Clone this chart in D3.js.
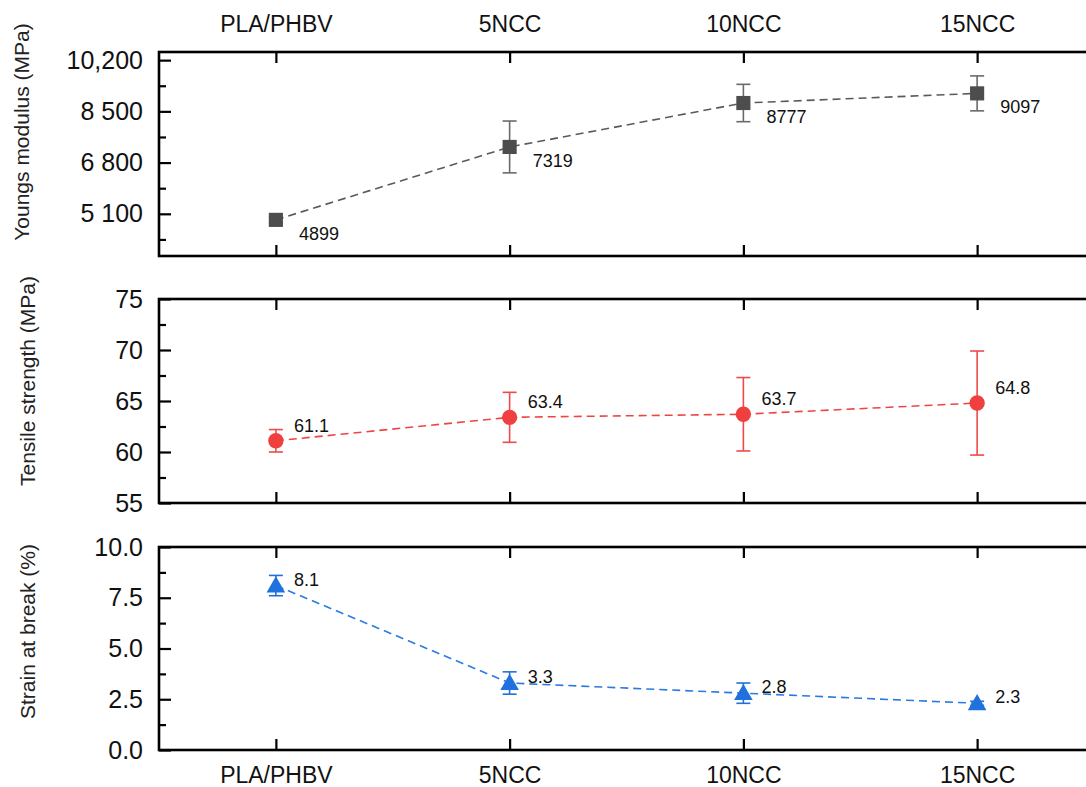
<!DOCTYPE html>
<html>
<head>
<meta charset="utf-8">
<script src="https://cdn.jsdelivr.net/npm/d3@7/dist/d3.min.js"></script>
<style>
  html, body { margin: 0; padding: 0; background: #fff; }
  svg { display: block; font-family: "Liberation Sans", Arial, sans-serif; }
</style>
</head>
<body>
<svg id="chart" width="1086" height="787"></svg>
<script>
// Sample groups
const categories = ["PLA/PHBV", "5NCC", "10NCC", "15NCC"];

// Young's modulus (MPa)
const modulus = [4899, 7319, 8777, 9097];
const modulusErr = [100, 860, 620, 580];
const modulusTicks = [5100, 6800, 8500, 10200];
const modulusTickLabels = ["5 100", "6 800", "8 500", "10,200"];
const modulusMinor = [4250, 5950, 7650, 9350];

// Tensile strength (MPa)
const strength = [61.1, 63.4, 63.7, 64.8];
const strengthErr = [1.1, 2.45, 3.6, 5.1];
const strengthTicks = [55, 60, 65, 70, 75];
const strengthTickLabels = ["55", "60", "65", "70", "75"];
const strengthMinor = [57.5, 62.5, 67.5, 72.5];

// Strain at break (%)
const strain = [8.1, 3.3, 2.8, 2.3];
const strainErr = [0.5, 0.55, 0.5, 0.1];
const strainTicks = [0, 2.5, 5, 7.5, 10];
const strainTickLabels = ["0.0", "2.5", "5.0", "7.5", "10.0"];
const strainMinor = [1.25, 3.75, 6.25, 8.75];

const svg = d3.select("#chart");
const left = 159, right = 1094;

const x = d3.scalePoint().domain(categories).range([left, right]).padding(0.5);

const panels = [
  {
    values: modulus, errs: modulusErr, ticks: modulusTicks, tickLabels: modulusTickLabels,
    minor: modulusMinor, domain: [3700, 10470], top: 52, bottom: 256,
    title: "Youngs modulus (MPa)", titleX: 29, titleShift: -22, color: "#4d4d4d", lineColor: "#5a5a5a",
    errColor: "#6a6a6a", marker: "square", labelDx: 23, labelDy: 20,
    catTop: true, catBottom: false
  },
  {
    values: strength, errs: strengthErr, ticks: strengthTicks, tickLabels: strengthTickLabels,
    minor: strengthMinor, domain: [55, 75], top: 299, bottom: 503,
    title: "Tensile strength (MPa)", titleX: 35, titleShift: -20, color: "#ef3f3f", lineColor: "#ef4444",
    errColor: "#ef4a4a", marker: "circle", labelDx: 18, labelDy: -9,
    catTop: false, catBottom: false
  },
  {
    values: strain, errs: strainErr, ticks: strainTicks, tickLabels: strainTickLabels,
    minor: strainMinor, domain: [0, 10], top: 547, bottom: 750,
    title: "Strain at break (%)", titleX: 35, titleShift: -17, color: "#1f72de", lineColor: "#2a7ae2",
    errColor: "#1f72de", marker: "triangle", labelDx: 18, labelDy: 0,
    catTop: false, catBottom: true
  }
];

panels.forEach(p => {
  const y = d3.scaleLinear().domain(p.domain).range([p.bottom, p.top]);
  const g = svg.append("g");

  // left axis: major ticks with labels, inward
  const yAxis = d3.axisLeft(y)
    .tickValues(p.ticks)
    .tickFormat((d, i) => p.tickLabels[i])
    .tickSizeInner(-12).tickSizeOuter(0).tickPadding(16);
  const ya = g.append("g").attr("transform", `translate(${left},0)`).call(yAxis);
  ya.select(".domain").remove();
  ya.selectAll("line").attr("stroke", "#000").attr("stroke-width", 2.2);
  ya.selectAll("text").attr("font-size", 25).attr("fill", "#111");

  // minor y ticks
  const ym = g.append("g").attr("transform", `translate(${left},0)`)
    .call(d3.axisLeft(y).tickValues(p.minor).tickFormat("").tickSizeInner(-7).tickSizeOuter(0));
  ym.select(".domain").remove();
  ym.selectAll("line").attr("stroke", "#000").attr("stroke-width", 2.2);

  // x ticks on top and bottom edges, inward
  const xt = g.append("g").attr("transform", `translate(0,${p.top})`)
    .call(d3.axisTop(x).tickSizeInner(-11).tickSizeOuter(0).tickPadding(20));
  xt.select(".domain").remove();
  xt.selectAll("line").attr("stroke", "#000").attr("stroke-width", 2.2);
  xt.selectAll("text").attr("font-size", 23).attr("fill", "#111")
    .style("display", p.catTop ? null : "none");

  const xb = g.append("g").attr("transform", `translate(0,${p.bottom})`)
    .call(d3.axisBottom(x).tickSizeInner(-11).tickSizeOuter(0).tickPadding(17));
  xb.select(".domain").remove();
  xb.selectAll("line").attr("stroke", "#000").attr("stroke-width", 2.2);
  xb.selectAll("text").attr("font-size", 23).attr("fill", "#111")
    .style("display", p.catBottom ? null : "none");

  // frame
  g.append("rect")
    .attr("x", left).attr("y", p.top)
    .attr("width", right - left).attr("height", p.bottom - p.top)
    .attr("fill", "none").attr("stroke", "#000").attr("stroke-width", 2.6);

  // axis title
  g.append("text")
    .attr("transform", `translate(${p.titleX},${(p.top + p.bottom) / 2 + p.titleShift}) rotate(-90)`)
    .attr("text-anchor", "middle")
    .attr("font-size", 21).attr("fill", "#222")
    .text(p.title);

  const pts = categories.map((c, i) => ({ c, v: p.values[i], e: p.errs[i] }));

  // dashed connecting line
  g.append("path")
    .datum(pts)
    .attr("fill", "none")
    .attr("stroke", p.lineColor)
    .attr("stroke-width", 1.6)
    .attr("stroke-dasharray", "8,5")
    .attr("d", d3.line().x(d => x(d.c)).y(d => y(d.v)));

  // error bars
  const eb = g.append("g").attr("stroke", p.errColor).attr("stroke-width", 1.6);
  pts.forEach(d => {
    const cx = x(d.c), y0 = y(d.v - d.e), y1 = y(d.v + d.e);
    eb.append("line").attr("x1", cx).attr("x2", cx).attr("y1", y0).attr("y2", y1);
    eb.append("line").attr("x1", cx - 7).attr("x2", cx + 7).attr("y1", y0).attr("y2", y0);
    eb.append("line").attr("x1", cx - 7).attr("x2", cx + 7).attr("y1", y1).attr("y2", y1);
  });

  // markers
  const symType = p.marker === "square" ? d3.symbolSquare
    : p.marker === "circle" ? d3.symbolCircle : d3.symbolTriangle;
  const symSize = p.marker === "square" ? 200 : p.marker === "circle" ? 185 : 150;
  g.append("g").selectAll("path")
    .data(pts).join("path")
    .attr("transform", d => `translate(${x(d.c)},${y(d.v) + (p.marker === "triangle" ? 1.5 : 0)})`)
    .attr("d", d3.symbol().type(symType).size(symSize))
    .attr("fill", p.color);

  // value labels
  g.append("g").selectAll("text")
    .data(pts).join("text")
    .attr("x", d => x(d.c) + p.labelDx)
    .attr("y", d => y(d.v) + p.labelDy)
    .attr("font-size", 18).attr("fill", "#111")
    .text(d => d.v);
});
</script>
</body>
</html>
